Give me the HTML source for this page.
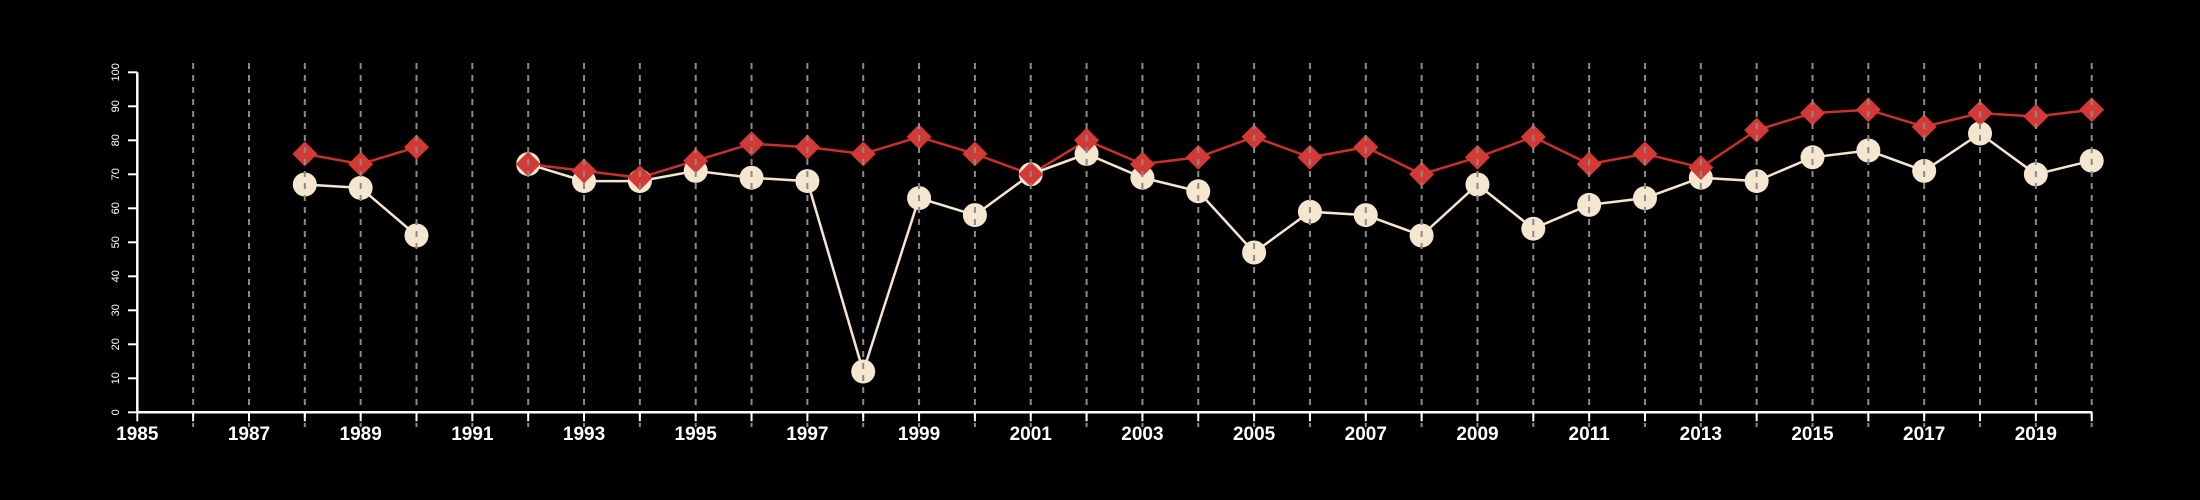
<!DOCTYPE html>
<html><head><meta charset="utf-8"><style>
html,body{margin:0;padding:0;background:#000;}
svg{display:block;font-family:"Liberation Sans",sans-serif;}
</style></head><body>
<svg id="chart" width="2200" height="500" viewBox="0 0 2200 500">
<rect width="2200" height="500" fill="#000"/>
<g id="lines"></g><g id="marks"></g><g id="grid"></g><g id="axes"></g>
</svg>
<script>
const years=[1988,1989,1990,1991,1992,1993,1994,1995,1996,1997,1998,1999,2000,2001,2002,2003,2004,2005,2006,2007,2008,2009,2010,2011,2012,2013,2014,2015,2016,2017,2018,2019,2020];
const redSeries=[76,73,78,null,73,71,69,74,79,78,76,81,76,70,80,73,75,81,75,78,70,75,81,73,76,72,83,88,89,84,88,87,89];
const whiteSeries=[67,66,52,null,73,68,68,71,69,68,12,63,58,70,76,69,65,47,59,58,52,67,54,61,63,69,68,75,77,71,82,70,74];
const yTicks=[0,10,20,30,40,50,60,70,80,90,100];
const xLabelYears=[1985,1987,1989,1991,1993,1995,1997,1999,2001,2003,2005,2007,2009,2011,2013,2015,2017,2019];
const NS='http://www.w3.org/2000/svg';
const x=v=>137.3+(v-1985)*55.84;
const y=v=>412.3-v*3.4;
function mk(t,a,p){const e=document.createElementNS(NS,t);for(const k in a)e.setAttribute(k,a[k]);p.appendChild(e);return e;}
const G=id=>document.getElementById(id);
function drawLine(vals,color,name){
  let seg=[];const segs=[];
  vals.forEach((v,i)=>{if(v==null){if(seg.length)segs.push(seg);seg=[];}else seg.push([x(years[i]),y(v)]);});
  if(seg.length)segs.push(seg);
  segs.forEach(s=>{const p=mk('polyline',{points:s.map(q=>q.join(',')).join(' '),fill:'none',stroke:color,'stroke-width':2.5},G('lines'));
    
    });
}
drawLine(whiteSeries,'#f5e6d0','white-series-line');
drawLine(redSeries,'#c9302c','red-series-line');
whiteSeries.forEach((v,i)=>{if(v==null)return;
  const c=mk('circle',{cx:x(years[i]),cy:y(v),r:12,fill:'#f5e6d0'},G('marks'));
  
  });
redSeries.forEach((v,i)=>{if(v==null)return;const cx=x(years[i]),cy=y(v),d=12.5;
  const p=mk('polygon',{points:`${cx},${cy-d} ${cx+d},${cy} ${cx},${cy+d} ${cx-d},${cy}`,fill:'#d33a35'},G('marks'));
  
  });
for(let yr=1986;yr<=2020;yr++){
  const l=mk('line',{x1:x(yr),x2:x(yr),y1:63,y2:427,stroke:'#8a8a8a','stroke-width':2,'stroke-dasharray':'6,6'},G('grid'));
  
  
}
const ax=G('axes');
const ya=mk('line',{x1:137.3,x2:137.3,y1:y(100),y2:y(0),stroke:'#fff','stroke-width':2.5},ax);


yTicks.forEach(t=>{
  const tl=mk('line',{x1:128,x2:137.3,y1:y(t),y2:y(t),stroke:'#fff','stroke-width':2},ax);
  
  
  const tx=mk('text',{x:0,y:0,fill:'#fff','font-size':11,'text-anchor':'middle',transform:`translate(119,${y(t)}) rotate(-90)`},ax);
  tx.textContent=t;
  
  
});
const xa=mk('line',{x1:137.3,x2:x(2020),y1:y(0),y2:y(0),stroke:'#fff','stroke-width':2.5},ax);


for(let yr=1985;yr<=2020;yr++){
  const tl=mk('line',{x1:x(yr),x2:x(yr),y1:y(0),y2:y(0)+9,stroke:'#fff','stroke-width':2},ax);
  
  
}
xLabelYears.forEach(yr=>{
  const tx=mk('text',{x:x(yr),y:440,fill:'#fff','font-size':19,'font-weight':'bold','text-anchor':'middle'},ax);
  tx.textContent=yr;
  
  
});
</script>
</body></html>
